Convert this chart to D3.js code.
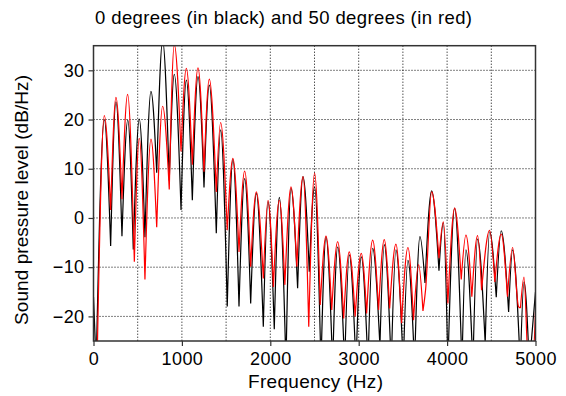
<!DOCTYPE html>
<html>
<head>
<meta charset="utf-8">
<script src="https://cdn.jsdelivr.net/npm/d3@7"></script>
<style>
  body { margin: 0; background: #fff; }
  svg { display: block; font-family: "Liberation Sans", Arial, sans-serif; }
</style>
</head>
<body>
<div id="chart"></div>
<script>
// Spectrum extrema (Hz, dB/Hz): troughs and peaks of each harmonic
const blackFreq = [0, 30, 122, 194, 254, 322, 388, 450, 518, 582, 650, 715, 782, 857, 914, 990,
  1050, 1118, 1182, 1250, 1310, 1389, 1438, 1513, 1577, 1646, 1710, 1778, 1842, 1921, 1974,
  2045, 2102, 2177, 2234, 2309, 2370, 2441, 2501, 2573, 2630, 2705, 2762, 2841, 2893, 2969,
  3029, 3105, 3158, 3240, 3289, 3368, 3421, 3504, 3557, 3632, 3693, 3750, 3825, 3908, 3957,
  4009, 4085, 4168, 4213, 4292, 4345, 4431, 4481, 4556, 4612, 4696, 4741, 4828, 4870, 4930, 5000];
const blackDb = [-16, -30, 20.0, -5.7, 23.6, -3.7, 19.9, -6.4, 20.1, -3.9, 25.7, 9.2, 36, 7.6, 29.2, 1.6,
  28.0, 3.6, 28.7, 6.2, 27.0, -3.1, 17.9, -18.0, 11.9, -18.0, 8.0, -17.4, 5.0, -22.1, 3.3,
  -22.6, 4.2, -30, 6.0, -14.3, 8.4, -10.9, 6.3, -30, -3.9, -30, -5.9, -30, -7.5, -30,
  -7.9, -30, -6.2, -26, -5.4, -30, -6.5, -30, -8.6, -30, -3.8, -13.2, 5.5, -10.7, -1.0,
  -30, 2.0, -30, -6.5, -30, -4.3, -25.5, -2.8, -16.1, -2.6, -19.1, -6.5, -30, -13, -30, -15];

const redFreq = [0, 40, 122, 194, 254, 322, 386, 462, 518, 582, 650, 715, 782, 857, 914, 990,
  1050, 1118, 1182, 1250, 1310, 1389, 1438, 1513, 1577, 1646, 1710, 1778, 1842, 1921, 1974,
  2035, 2102, 2165, 2234, 2300, 2370, 2435, 2501, 2565, 2630, 2695, 2762, 2830, 2893, 2960,
  3029, 3090, 3158, 3225, 3289, 3350, 3421, 3485, 3557, 3620, 3678, 3727, 3757, 3825, 3908, 3957,
  4009, 4085, 4160, 4213, 4280, 4345, 4390, 4481, 4540, 4612, 4683, 4741, 4808, 4830, 4870,
  4920, 4965, 5000];
const redDb = [-27, -30, 20.8, 1.6, 24.5, 3.8, 25.1, -8.9, 16.2, -12.5, 16.0, -1.9, 22.7, 5.8, 35.2, 13.5,
  30.4, 10.8, 30.5, 9.4, 28.2, 5.3, 19.4, -2.5, 12.1, -6.9, 9.5, -9.9, 5.3, -12.3, 3.6,
  -14.0, 3.6, -13.6, 6.3, -9.9, 8.4, -22.1, 9.1, -17.7, -3.7, -18.7, -4.8, -20.4, -6.9, -20.0,
  -7.2, -19.4, -4.5, -18.7, -4.4, -18.4, -5.3, -21.4, -6.0, -20.8, -9.5, -18.9, -14.5, 5.3, -8.2, -0.8,
  -17.4, 2.0, -12.5, -3.5, -16.0, -3.6, -14.7, -2.5, -13.0, -3.3, -16.0, -6.0, -18.0, -18.3, -12.0,
  -30, -30, -19];

const xTicks = [0, 1000, 2000, 3000, 4000, 5000];
const yTicks = [-20, -10, 0, 10, 20, 30];
const titleText = "0 degrees (in black) and 50 degrees (in red)";

const width = 566, height = 396;
const margin = { top: 45.7, right: 30.5, bottom: 55, left: 93.5 };
const innerW = width - margin.left - margin.right;
const innerH = height - margin.top - margin.bottom;

const svg = d3.select('#chart').append('svg')
  .attr('width', width)
  .attr('height', height);

const x = d3.scaleLinear().domain([0, 5000]).range([0, innerW]);
const y = d3.scaleLinear().domain([-25, 35]).range([innerH, 0]);

const g = svg.append('g').attr('transform', `translate(${margin.left},${margin.top})`);

g.append('clipPath').attr('id', 'clip')
  .append('rect').attr('width', innerW).attr('height', innerH);

// dotted grid
g.append('g').selectAll('line')
  .data(d3.range(500, 5000, 500))
  .join('line')
  .attr('x1', d => x(d)).attr('x2', d => x(d))
  .attr('y1', 0).attr('y2', innerH)
  .attr('stroke', '#000').attr('stroke-width', 1)
  .attr('stroke-dasharray', '1,2');
g.append('g').selectAll('line')
  .data(yTicks)
  .join('line')
  .attr('x1', 0).attr('x2', innerW)
  .attr('y1', d => y(d)).attr('y2', d => y(d))
  .attr('stroke', '#000').attr('stroke-width', 1)
  .attr('stroke-dasharray', '1,2');

// split into humps at local minima so troughs stay sharp and peaks round
function humpPath(freq, db) {
  const pts = freq.map((f, i) => [f, db[i]]);
  const cuts = [0];
  for (let i = 1; i < pts.length - 1; i++) {
    if (pts[i][1] < pts[i - 1][1] && pts[i][1] < pts[i + 1][1]) cuts.push(i);
  }
  cuts.push(pts.length - 1);
  const line = d3.line()
    .x(d => x(d[0]))
    .y(d => y(d[1]))
    .curve(d3.curveMonotoneX);
  let d = '';
  for (let k = 0; k < cuts.length - 1; k++) {
    d += line(pts.slice(cuts[k], cuts[k + 1] + 1));
  }
  return d;
}

const lines = g.append('g').attr('clip-path', 'url(#clip)');
lines.append('path')
  .attr('d', humpPath(blackFreq, blackDb))
  .attr('fill', 'none')
  .attr('stroke', '#000')
  .attr('stroke-width', 1.2);
lines.append('path')
  .attr('d', humpPath(redFreq, redDb))
  .attr('fill', 'none')
  .attr('stroke', '#f00')
  .attr('stroke-width', 1.2);

// frame
g.append('rect')
  .attr('width', innerW).attr('height', innerH)
  .attr('fill', 'none')
  .attr('stroke', '#333').attr('stroke-width', 1.5);

// axes
const xAxis = g.append('g')
  .attr('transform', `translate(0,${innerH})`)
  .call(d3.axisBottom(x).tickValues(xTicks).tickSize(5).tickPadding(6).tickFormat(d3.format('d')));
const yAxis = g.append('g')
  .call(d3.axisLeft(y).tickValues(yTicks).tickSize(5).tickPadding(4));
[xAxis, yAxis].forEach(a => {
  a.select('.domain').remove();
  a.selectAll('line').attr('stroke', '#333').attr('stroke-width', 1.2);
  a.selectAll('text')
    .attr('fill', '#000')
    .style('font-size', '18px')
    .style('letter-spacing', '0.4px')
    .style('font-family', '"Liberation Sans", Arial, sans-serif');
});

// labels
svg.append('text')
  .attr('x', 95).attr('y', 23.5)
  .attr('textLength', 377).attr('lengthAdjust', 'spacing')
  .style('font-size', '18.5px')
  .text(titleText);

svg.append('text')
  .attr('x', 315.5).attr('y', 388)
  .attr('text-anchor', 'middle')
  .attr('textLength', 135).attr('lengthAdjust', 'spacing')
  .style('font-size', '19px')
  .text('Frequency (Hz)');

svg.append('text')
  .attr('transform', `translate(28,200) rotate(-90)`)
  .attr('text-anchor', 'middle')
  .attr('textLength', 250).attr('lengthAdjust', 'spacing')
  .style('font-size', '19px')
  .text('Sound pressure level (dB/Hz)');
</script>
</body>
</html>
